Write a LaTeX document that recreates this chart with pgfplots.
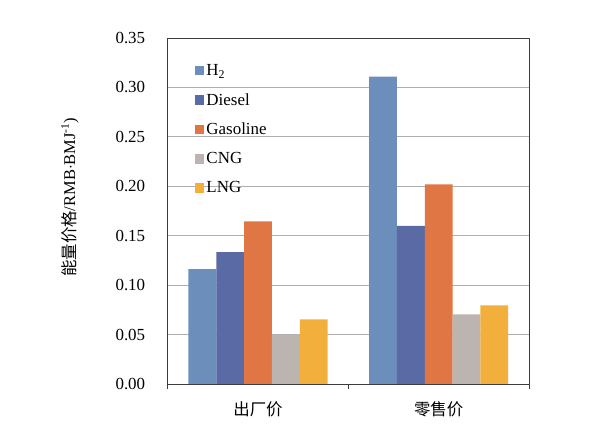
\documentclass[border=0pt]{standalone}
\usepackage{pgfplots}
\pgfplotsset{compat=1.18}
\usepackage{fontspec}
\setmainfont{Liberation Serif}
\newfontfamily\cjk{Noto Sans CJK SC}
\definecolor{cH}{RGB}{108,142,186}
\definecolor{cD}{RGB}{90,106,165}
\definecolor{cG}{RGB}{224,118,68}
\definecolor{cC}{RGB}{187,180,176}
\definecolor{cL}{RGB}{243,175,60}
\definecolor{gridc}{RGB}{175,175,175}
\definecolor{axc}{RGB}{60,60,60}
\begin{document}
\begin{tikzpicture}
\path[use as bounding box] (-167.7bp,-50bp) rectangle (448.3bp,384bp);
\begin{axis}[
  scale only axis, width=361.3bp, height=346bp,
  at={(0,0)}, anchor=south west,
  xmin=-0.5, xmax=1.5, ymin=0, ymax=0.35,
  ybar=0pt, bar width=0.154,
  ytick={0,0.05,...,0.351},
  ymajorgrids, grid style={gridc, line width=0.8pt},
  major y tick style={draw=none},
  /pgf/number format/fixed, /pgf/number format/fixed zerofill,
  /pgf/number format/precision=2, /pgf/number format/assume math mode=true,
  yticklabel style={font=\fontsize{17}{20}\selectfont, xshift=-19bp},
  xtick={-0.5,0.5,1.5}, xticklabels={}, xtick pos=bottom,
  major x tick style={axc, line width=0.8pt},
  xtick align=outside, major tick length=5bp,
  extra x ticks={0,1},
  extra x tick labels={{\cjk 出厂价},{\cjk 零售价}},
  extra x tick style={major tick length=0pt, xticklabel style={font=\fontsize{16.5}{19}\selectfont, yshift=-14bp}, grid=none},
  axis line style={axc, line width=0.9pt},
  ylabel={{\cjk 能量价格}/RMB$\cdot$BMJ\textsuperscript{-1})},
  ylabel style={font=\fontsize{16.5}{19}\selectfont, at={(rel axis cs:0,0.54)}, anchor=center, yshift=97.7bp},
  legend style={draw=none, fill=none, at={(rel axis cs:0.075,0.93)}, anchor=north west,
    font=\fontsize{17}{20}\selectfont, row sep=12.4bp, inner sep=0pt},
  legend cell align=left,
  legend image code/.code={\fill[#1] (0bp,-4.5bp) rectangle (9.5bp,5bp);},
  every axis plot/.append style={draw=none},
]
\addplot[fill=cH, bar shift=-0.308] coordinates {(0,0.1163) (1,0.3109)};
\addplot[fill=cD, bar shift=-0.154] coordinates {(0,0.1335) (1,0.1600)};
\addplot[fill=cG, bar shift=0] coordinates {(0,0.1646) (1,0.2020)};
\addplot[fill=cC, bar shift=0.154] coordinates {(0,0.0499) (1,0.0705)};
\addplot[fill=cL, bar shift=0.308] coordinates {(0,0.0654) (1,0.0796)};
\legend{H\textsubscript{2},Diesel,Gasoline,CNG,LNG}
\end{axis}
\end{tikzpicture}
\end{document}
